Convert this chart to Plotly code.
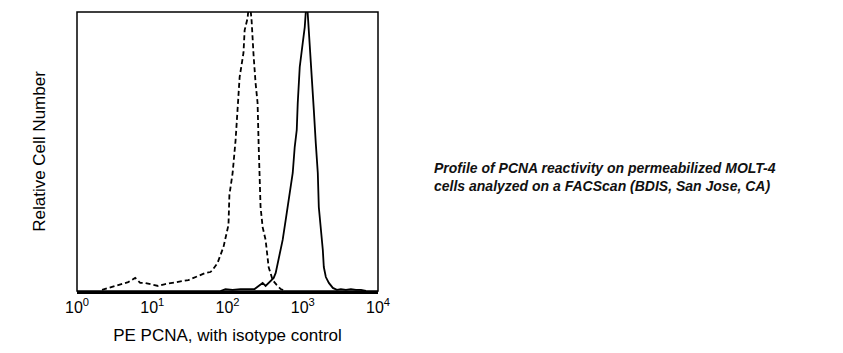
import plotly.graph_objects as go

# Isotype control (dashed) histogram: fluorescence channel value, relative count
iso_x = [2.15, 2.59, 3.52, 4.79, 5.93, 6.92, 8.07, 10.0, 12.0, 14.9, 20.3, 30.2, 41.0, 50.9,
         59.3, 63.1, 73.6, 85.8, 88.5, 103, 106, 117, 128, 136, 145, 163, 169, 185, 196,
         209, 215, 222, 236, 251, 259, 267, 275, 293, 321, 352, 398, 450, 509, 593]
iso_y = [0.4, 1.1, 2.2, 3.2, 4.7, 2.9, 2.9, 2.2, 1.8, 2.5, 3.2, 3.9, 5.4, 6.5,
         6.8, 7.5, 10.0, 14.7, 15.8, 23.7, 34.4, 42.3, 54.0, 65.0, 76.7, 85.3, 93.5, 97.8, 105,
         97.0, 90.0, 84.6, 74.6, 67.4, 53.0, 42.3, 30.1, 22.9, 18.3, 8.6, 3.9, 2.2, 0.7, 0.0]

# PE PCNA (solid) histogram
pcna_x = [80.7, 94, 117, 149, 191, 229, 259, 293, 321, 352, 386, 411, 437, 479, 541, 593,
          671, 736, 782, 832, 858, 912, 1000, 1063, 1130, 1202, 1240, 1279, 1359, 1403, 1490,
          1585, 1634, 1738, 1848, 1905, 2027, 2223, 2512, 2840, 3212, 3744, 4365, 5093, 5934, 6918]
pcna_y = [0.0, 0.7, 0.4, 0.7, 0.7, 0.7, 1.8, 2.9, 1.8, 2.9, 3.9, 4.7, 6.5, 11.1, 18.3, 25.4,
          35.1, 42.3, 51.6, 57.7, 67.4, 80.3, 88.9, 94.6, 105, 94.6, 88.9, 82.8, 73.1, 64.9, 53.0,
          42.3, 30.1, 22.9, 14.7, 8.6, 5.0, 2.9, 1.1, 0.4, 0.7, 0.4, 0.7, 0.4, 0.4, 0.0]

tick_vals = [1, 10, 100, 1000, 10000]
tick_text = ["10<sup>0</sup>", "10<sup>1</sup>", "10<sup>2</sup>", "10<sup>3</sup>", "10<sup>4</sup>"]
x_title = "PE PCNA, with isotype control"
y_title = "Relative Cell Number"
caption = ("<b><i>Profile of PCNA reactivity on permeabilized MOLT-4<br>"
           "cells analyzed on a FACScan (BDIS, San Jose, CA)</i></b>")

FONT = "Liberation Sans, Arial, sans-serif"

fig = go.Figure()
fig.add_trace(go.Scatter(x=iso_x, y=iso_y, mode="lines",
                         line=dict(color="black", width=1.8, dash="5px,3px"),
                         showlegend=False, hoverinfo="skip"))
fig.add_trace(go.Scatter(x=pcna_x, y=pcna_y, mode="lines",
                         line=dict(color="black", width=1.8),
                         showlegend=False, hoverinfo="skip"))

fig.update_layout(
    width=843, height=353,
    margin=dict(l=77, r=465, t=12, b=62),
    paper_bgcolor="white", plot_bgcolor="white",
    font=dict(family=FONT, color="black", size=16),
    xaxis=dict(type="log", range=[0, 4], tickvals=tick_vals, ticktext=tick_text,
               showgrid=False, zeroline=False,
               showline=True, linecolor="black", linewidth=3,
               ticks="", ticklen=0,
               tickfont=dict(size=16, family=FONT),
               title=dict(text=x_title, font=dict(size=17, family=FONT), standoff=14)),
    yaxis=dict(range=[0, 100], showticklabels=False, showgrid=False, zeroline=False,
               showline=False, ticks="",
               title=dict(text=y_title, font=dict(size=17, family=FONT), standoff=26)),
    shapes=[dict(type="rect", xref="paper", yref="paper", x0=0, x1=1, y0=0, y1=1,
                 line=dict(color="black", width=1.5))],
    annotations=[dict(text=caption, xref="paper", yref="paper", x=1.18, y=0.41,
                      xanchor="left", yanchor="middle", align="left", showarrow=False,
                      font=dict(size=14, family=FONT, color="#111111"))],
)

fig.write_html("out.html")
